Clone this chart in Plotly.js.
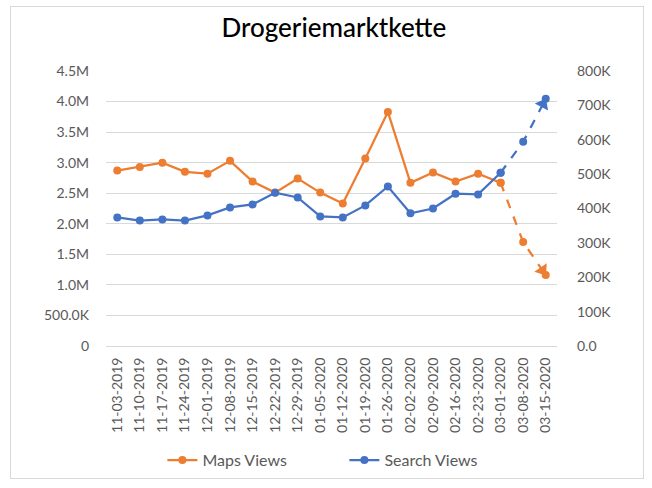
<!DOCTYPE html>
<html>
<head>
<meta charset="utf-8">
<script src="https://cdn.plot.ly/plotly-3.0.1.min.js"></script>
<style>
  html, body { margin: 0; padding: 0; background: #fff; }
  #chart { position: absolute; left: 0; top: 0; width: 652px; height: 488px; }
  #frame { position: absolute; left: 10px; top: 6px; width: 634px; height: 473px; box-sizing: border-box;
           border: 1px solid #d9d9d9; pointer-events: none; }
</style>
</head>
<body>
<div id="chart"></div>
<div id="frame"></div>
<script>
const weeks = ["11-03-2019","11-10-2019","11-17-2019","11-24-2019","12-01-2019","12-08-2019","12-15-2019",
  "12-22-2019","12-29-2019","01-05-2020","01-12-2020","01-19-2020","01-26-2020","02-02-2020","02-09-2020",
  "02-16-2020","02-23-2020","03-01-2020","03-08-2020","03-15-2020"];
const mapsViews = [2870000,2930000,3000000,2850000,2820000,3030000,2690000,2510000,2740000,2510000,
  2330000,3070000,3830000,2670000,2840000,2690000,2820000,2670000,1700000,1160000];
const searchViews = [374000,365000,368000,365000,380000,403000,412000,446000,432000,377000,
  374000,409000,464000,386000,400000,443000,441000,504000,594000,719000];
const forecastStart = 17; // index of 03-01-2020, dashed afterwards
const leftTickVals = [0,500000,1000000,1500000,2000000,2500000,3000000,3500000,4000000,4500000];
const leftTickText = ["0","500.0K","1.0M","1.5M","2.0M","2.5M","3.0M","3.5M","4.0M","4.5M"];
const rightTickVals = [0,100000,200000,300000,400000,500000,600000,700000,800000];
const rightTickText = ["0.0","100K","200K","300K","400K","500K","600K","700K","800K"];

const orange = "#ed7d31", blue = "#4472c4";
const solidX = weeks.slice(0, forecastStart + 1);
const dashX = weeks.slice(forecastStart);

function series(name, vals, color, yaxis) {
  const solid = {
    x: solidX, y: vals.slice(0, forecastStart + 1), name: name, yaxis: yaxis,
    type: "scatter", mode: "lines+markers",
    line: { color: color, width: 2.25 }, marker: { color: color, size: 8 }
  };
  const dashed = {
    x: dashX, y: vals.slice(forecastStart), yaxis: yaxis, showlegend: false, hoverinfo: "skip",
    type: "scatter", mode: "lines+markers",
    line: { color: color, width: 2.25, dash: "dash" }, marker: { color: color, size: 8 }
  };
  const n = vals.length;
  const arrow = {
    x: weeks.slice(n - 2), y: vals.slice(n - 2), yaxis: yaxis, showlegend: false, hoverinfo: "skip",
    type: "scatter", mode: "markers", opacity: 1,
    marker: { color: color, opacity: 1, symbol: "triangle-up", size: [0, 13], angleref: "previous",
              standoff: 6, line: { width: 0 } }
  };
  return [solid, dashed, arrow];
}

const data = [...series("Maps Views", mapsViews, orange, "y"), ...series("Search Views", searchViews, blue, "y2")];

const tickFont = { family: "Lato, 'Noto Sans', sans-serif", size: 14, color: "#595959" };
const layout = {
  width: 652, height: 488,
  margin: { l: 106, r: 95, t: 71, b: 141, pad: 0 },
  paper_bgcolor: "#ffffff", plot_bgcolor: "#ffffff",
  title: { text: "Drogeriemarktkette", x: 0.512, xanchor: "center", y: 0.942, yanchor: "middle",
           font: { family: "Lato, sans-serif", size: 26, color: "#000000", weight: 500 } },
  showlegend: true,
  legend: { orientation: "h", x: 0.125, xanchor: "left", y: -0.41, yanchor: "middle",
            font: { family: "Lato, sans-serif", size: 16, color: "#595959" },
            itemwidth: 30, entrywidth: 137, entrywidthmode: "pixels" },
  xaxis: {
    type: "category", tickangle: -90, tickfont: tickFont, showgrid: false,
    showline: true, linecolor: "#d9d9d9", linewidth: 1, ticks: "", ticklen: 0,
    range: [-0.5, weeks.length - 0.5], ticklabelstandoff: 5
  },
  yaxis: {
    range: [0, 4500000], tickvals: leftTickVals, ticktext: leftTickText, tickfont: tickFont,
    showgrid: true, gridcolor: "#d9d9d9", gridwidth: 1, zeroline: false, showline: false,
    ticks: "", ticklabelstandoff: 16
  },
  yaxis2: {
    range: [0, 800000], tickvals: rightTickVals, ticktext: rightTickText, tickfont: tickFont,
    overlaying: "y", side: "right", showgrid: false, zeroline: false, showline: false,
    ticks: "", ticklabelstandoff: 19
  }
};

Plotly.newPlot("chart", data, layout, { displayModeBar: false, staticPlot: true });
</script>
</body>
</html>
